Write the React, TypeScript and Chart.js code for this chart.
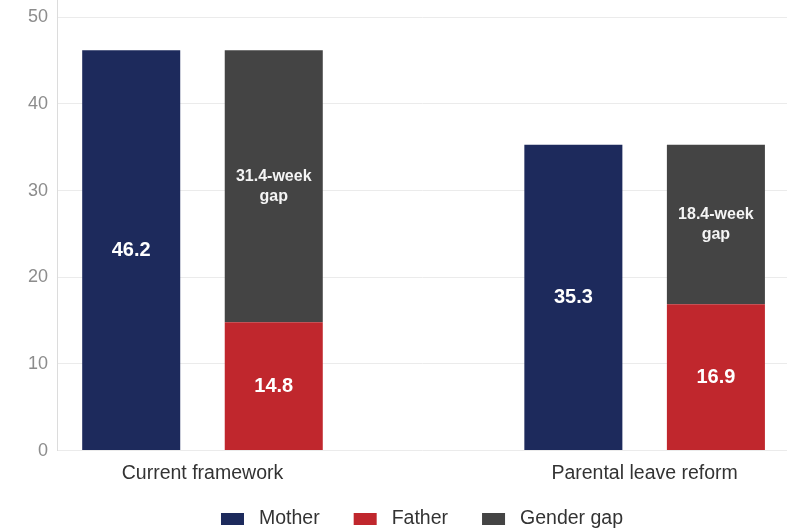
import { useEffect, useRef } from 'react';
import { Chart, registerables } from 'chart.js';

Chart.register(...registerables);

// Weeks of leave taken, by parent, under each scenario
const categories = ['Current framework', 'Parental leave reform'];
const motherWeeks = [46.2, 35.3];
const fatherWeeks = [14.8, 16.9];
const gapWeeks = [31.4, 18.4];
const yTicks = [0, 10, 20, 30, 40, 50];

const seriesNames = ['Mother', 'Father', 'Gender gap'];
const seriesColors = ['#1d2a5c', '#c0272d', '#444444'];

const FONT = '"Liberation Sans", Arial, Helvetica, sans-serif';

const toPoints = (values: number[]) => values.map((y, x) => ({ x, y }));

// Value labels centred inside each bar segment
const barLabels = {
  id: 'barLabels',
  afterDatasetsDraw(chart: any) {
    const { ctx } = chart;
    ctx.save();
    ctx.textAlign = 'center';
    ctx.textBaseline = 'middle';
    chart.data.datasets.forEach((ds: any, di: number) => {
      const meta = chart.getDatasetMeta(di);
      meta.data.forEach((bar: any, i: number) => {
        const { x, y, base } = bar.getProps(['x', 'y', 'base'], true);
        const cy = (y + base) / 2;
        const v: number = ds.data[i].y;
        if (di === 2) {
          ctx.font = `bold 16px ${FONT}`;
          ctx.fillStyle = '#f4f4f4';
          ctx.fillText(`${v.toFixed(1)}-week`, x, cy - 10);
          ctx.fillText('gap', x, cy + 10);
        } else {
          ctx.font = `bold 20px ${FONT}`;
          ctx.fillStyle = '#ffffff';
          ctx.fillText(v.toFixed(1), x, cy);
        }
      });
    });
    ctx.restore();
  },
};

// Legend row centred under the plot area
const bottomLegend = {
  id: 'bottomLegend',
  afterDraw(chart: any) {
    const { ctx, chartArea } = chart;
    const boxW = 23;
    const boxH = 12;
    const textGap = 15;
    const itemGap = 34;
    ctx.save();
    ctx.font = `19.5px ${FONT}`;
    const widths = seriesNames.map((n) => boxW + textGap + ctx.measureText(n).width);
    const total = widths.reduce((a, b) => a + b, 0) + itemGap * (widths.length - 1);
    let x = (chartArea.left + chartArea.right) / 2 - total / 2;
    const cy = chart.height - 13;
    ctx.textBaseline = 'middle';
    ctx.textAlign = 'left';
    seriesNames.forEach((name, i) => {
      ctx.fillStyle = seriesColors[i];
      ctx.fillRect(x, cy - boxH / 2, boxW, boxH);
      ctx.fillStyle = '#333333';
      ctx.fillText(name, x + boxW + textGap, cy);
      x += widths[i] + itemGap;
    });
    ctx.restore();
  },
};

export default function App() {
  const canvasRef = useRef<HTMLCanvasElement | null>(null);

  useEffect(() => {
    document.body.style.margin = '0';
    const canvas = canvasRef.current;
    if (!canvas) return;
    const chart = new Chart(canvas, {
      type: 'bar',
      data: {
        datasets: [
          { label: seriesNames[0], data: toPoints(motherWeeks), backgroundColor: seriesColors[0], stack: 'mother' },
          { label: seriesNames[1], data: toPoints(fatherWeeks), backgroundColor: seriesColors[1], stack: 'father' },
          { label: seriesNames[2], data: toPoints(gapWeeks), backgroundColor: seriesColors[2], stack: 'father' },
        ],
      },
      options: {
        responsive: false,
        animation: false,
        categoryPercentage: 0.6448,
        barPercentage: 0.6877,
        layout: { padding: { left: 19, right: 0, top: 0, bottom: 36 } },
        plugins: {
          legend: { display: false },
          tooltip: { enabled: false },
        },
        scales: {
          x: {
            type: 'linear',
            min: -0.329,
            max: 1.322,
            offset: false,
            grid: { display: false, drawTicks: false },
            border: { display: false },
            afterBuildTicks: (s: any) => {
              s.ticks = categories.map((_, i) => ({ value: i }));
            },
            ticks: {
              autoSkip: false,
              maxRotation: 0,
              padding: 11,
              color: '#333333',
              font: { family: FONT, size: 19.5 },
              callback: (v: any) => categories[Number(v)] ?? '',
            },
          },
          y: {
            stacked: true,
            min: 0,
            max: 52,
            afterBuildTicks: (s: any) => {
              s.ticks = yTicks.map((value) => ({ value }));
            },
            afterFit: (s: any) => {
              s.paddingTop = 0;
            },
            grid: { color: '#ebebeb', drawTicks: false },
            border: { color: '#dcdcdc' },
            ticks: {
              padding: 9,
              color: '#8c8c8c',
              font: { family: FONT, size: 18 },
            },
          },
        },
      } as any,
      plugins: [barLabels, bottomLegend],
    });
    return () => chart.destroy();
  }, []);

  return (
    <div style={{ width: 787, height: 532 }}>
      <canvas ref={canvasRef} width={787} height={532} style={{ display: 'block' }} />
    </div>
  );
}
